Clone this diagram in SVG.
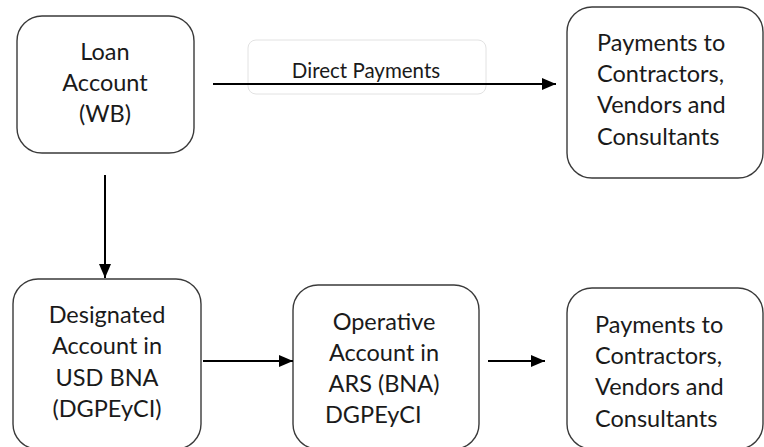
<svg xmlns="http://www.w3.org/2000/svg" width="764" height="447" viewBox="0 0 764 447">
<defs>
<style>
.box{fill:#fff;stroke:#3a3a3a;stroke-width:1.4}
.t{font-family:Lato,"Open Sans","Liberation Sans",sans-serif;font-size:23.5px;fill:#1a1a1a}
.c{text-anchor:middle}
.lbl{font-family:Lato,"Open Sans","Liberation Sans",sans-serif;font-size:20.5px;fill:#1a1a1a;text-anchor:middle}
.ln{stroke:#000;stroke-width:2;fill:none}
</style>
<marker id="ah" markerWidth="14" markerHeight="12" refX="14" refY="6" orient="auto" markerUnits="userSpaceOnUse">
<path d="M0,0 L14,6 L0,12 Z" fill="#000"/>
</marker>
</defs>
<rect width="764" height="447" fill="#fff"/>
<g id="loan">
<rect class="box" x="17" y="16" width="177" height="137" rx="25"/>
<text class="t c" x="105" y="60">Loan</text>
<text class="t c" x="105" y="91">Account</text>
<text class="t c" x="105" y="122">(WB)</text>
</g>
<g id="direct-label">
<rect x="248" y="40" width="238" height="54" rx="8" fill="#fff" stroke="#e2e2e2" stroke-width="1"/>
<text class="lbl" x="366" y="78">Direct Payments</text>
</g>
<g id="pay-top">
<rect class="box" x="567" y="7" width="196" height="171" rx="25"/>
<text class="t" x="597" y="51">Payments to</text>
<text class="t" x="597" y="82">Contractors,</text>
<text class="t" x="597" y="113">Vendors and</text>
<text class="t" x="597" y="145">Consultants</text>
</g>
<g id="designated">
<rect class="box" x="13" y="279" width="188" height="170" rx="25"/>
<text class="t c" x="107" y="323">Designated</text>
<text class="t c" x="107" y="354">Account in</text>
<text class="t c" x="107" y="386">USD BNA</text>
<text class="t c" x="107" y="417">(DGPEyCI)</text>
</g>
<g id="operative">
<rect class="box" x="293" y="285" width="186" height="164" rx="25"/>
<text class="t c" x="384" y="330">Operative</text>
<text class="t c" x="384" y="361">Account in</text>
<text class="t c" x="384" y="392">ARS (BNA)</text>
<text class="t" x="325" y="423">DGPEyCI</text>
</g>
<g id="pay-bottom">
<rect class="box" x="567" y="288" width="196" height="161" rx="25"/>
<text class="t" x="595" y="333">Payments to</text>
<text class="t" x="595" y="364">Contractors,</text>
<text class="t" x="595" y="395">Vendors and</text>
<text class="t" x="595" y="427">Consultants</text>
</g>
<g id="connectors">
<line class="ln" x1="213" y1="84" x2="556" y2="84" marker-end="url(#ah)"/>
<line class="ln" x1="105" y1="175" x2="105" y2="278" marker-end="url(#ah)"/>
<line class="ln" x1="203" y1="361" x2="293" y2="361" marker-end="url(#ah)"/>
<line class="ln" x1="488" y1="361" x2="545" y2="361" marker-end="url(#ah)"/>
</g>
</svg>
